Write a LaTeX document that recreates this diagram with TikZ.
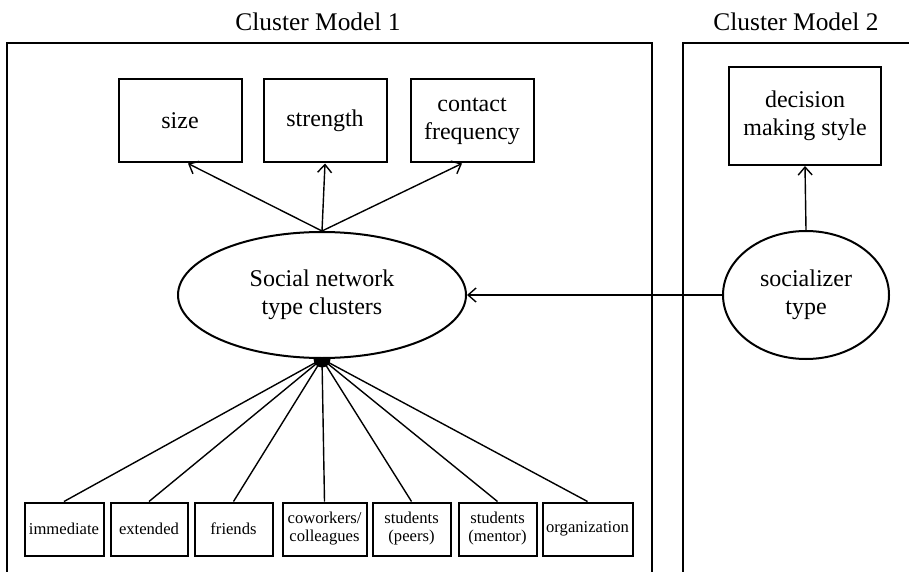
\documentclass[tikz,border=0pt]{standalone}
\usepackage{fontspec}
\setmainfont{Liberation Serif}
\usetikzlibrary{arrows.meta,shapes.geometric}

\begin{document}
\begin{tikzpicture}[x=0.5pt,y=-0.5pt,font=\fontsize{12}{14}\selectfont,
    >={Straight Barb[length=4pt,width=7pt]},
    frame/.style={line width=1pt},
    topbox/.style={draw,line width=1pt,inner sep=0pt,minimum width=61.5pt,minimum height=41.5pt,align=center},
    leafbox/.style={draw,line width=1pt,inner sep=0pt,minimum height=26.5pt,align=center,font=\fontsize{8.3}{9}\selectfont},
    blob/.style={draw,ellipse,line width=1pt,fill=white,inner sep=0pt,align=center},
    arr/.style={->,line width=0.7pt},
    spoke/.style={line width=0.7pt}]
    \useasboundingbox (0,0) rectangle (909,572);
    \draw[frame] (7,573) -- (7,43) -- (652,43) -- (652,573);
    \draw[frame] (683,573) -- (683,43) -- (910,43);
    \node (title1) at (318,22) {\fontsize{12.7}{14}\selectfont Cluster Model 1};
    \node (title2) at (796,22) {\fontsize{12.7}{14}\selectfont Cluster Model 2};
    \node[topbox] (size) at (180,121) {size};
    \node[topbox] (strength) at (325,121) {strength};
    \node[topbox] (contact) at (472,121) {contact\\frequency};
    \node[topbox,minimum width=76pt,minimum height=49pt] (decision) at (805,116) {decision\\making style};
    \node[circle,fill,inner sep=0pt,minimum size=8.5pt] (hub) at (322,359) {};
    \node[blob,minimum width=144pt,minimum height=63pt] (net) at (322,295) {Social network\\type clusters};
    \node[blob,minimum width=83pt,minimum height=64pt] (soc) at (806,295) {socializer\\type};
    \node[leafbox,minimum width=39.5pt] (immediate) at (64,529) {immediate};
    \node[leafbox,minimum width=38.5pt] (extended) at (149,529) {extended};
    \node[leafbox,minimum width=39pt] (friends) at (233.5,529) {friends};
    \node[leafbox,minimum width=42pt] (coworkers) at (324.5,529) {coworkers/\\colleagues};
    \node[leafbox,minimum width=39pt] (peers) at (411.5,529) {students\\(peers)};
    \node[leafbox,minimum width=39pt] (mentor) at (497.5,529) {students\\(mentor)};
    \node[leafbox,minimum width=45pt] (organization) at (587.5,529) {organization};
    \foreach \b/\s in {size/4pt,strength/0pt,contact/-5pt}{\draw[arr] (net.north) -- ([xshift=\s]\b.south);}
    \draw[arr] (soc.north) -- (decision.south);
    \draw[arr] (soc) -- (net);
    \foreach \b in {immediate,extended,friends,coworkers,peers,mentor,organization}{\draw[spoke] (hub.center) -- (\b.north);}
\end{tikzpicture}
\end{document}
